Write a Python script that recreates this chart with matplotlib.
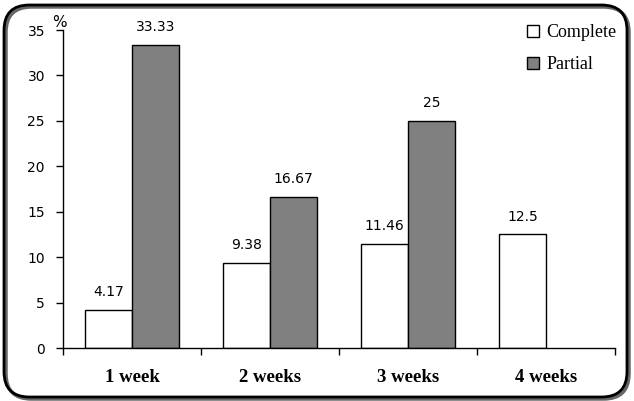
import matplotlib
matplotlib.use("Agg")
import matplotlib.pyplot as plt
from matplotlib.patches import FancyBboxPatch
import numpy as np

categories = ["1 week", "2 weeks", "3 weeks", "4 weeks"]
complete = [4.17, 9.38, 11.46, 12.5]
partial = [33.33, 16.67, 25, None]
complete_labels = ["4.17", "9.38", "11.46", "12.5"]
partial_labels = ["33.33", "16.67", "25", None]
yticks = [0, 5, 10, 15, 20, 25, 30, 35]

fig = plt.figure(figsize=(6.34, 4.01), dpi=100)
ax = fig.add_axes([63/634, 1-348/401, (615-63)/634, (348-30)/401])

# frame with shadow
shadow = FancyBboxPatch((6/634, 2/401), 623/634, 392/401, boxstyle="round,pad=0,rounding_size=0.04",
                        transform=fig.transFigure, facecolor="none", edgecolor="#666666", lw=2.5,
                        mutation_aspect=634/401, zorder=0)
fig.patches.append(shadow)
frame = FancyBboxPatch((4/634, 4/401), 623/634, 392/401, boxstyle="round,pad=0,rounding_size=0.04",
                       transform=fig.transFigure, facecolor="none", edgecolor="black", lw=2,
                       mutation_aspect=634/401, zorder=1)
fig.patches.append(frame)

x = np.arange(len(categories))
w = 0.34
sans = "DejaVu Sans"
for i in range(len(categories)):
    ax.bar(x[i] - w/2, complete[i], w, color="white", edgecolor="black", lw=1,
           label="Complete" if i == 0 else None)
    ax.text(x[i] - w/2, complete[i] + 1.2, complete_labels[i], ha="center", va="bottom",
            fontsize=10, family=sans)
    if partial[i] is not None:
        ax.bar(x[i] + w/2, partial[i], w, color="#808080", edgecolor="black", lw=1,
               label="Partial" if i == 0 else None)
        ax.text(x[i] + w/2, partial[i] + 1.2, partial_labels[i], ha="center", va="bottom",
                fontsize=10, family=sans)

ax.set_xlim(-0.5, len(categories) - 0.5)
ax.set_ylim(0, 35)
ax.set_yticks(yticks)
ax.set_yticklabels([str(t) for t in yticks], fontsize=10, family=sans)
ax.set_xticks(np.arange(-0.5, len(categories)), minor=False)
ax.set_xticklabels([])
ax.set_xticks(x, minor=True)
ax.set_xticklabels(categories, minor=True, fontsize=13.5, family="Liberation Serif", fontweight="bold")
ax.tick_params(axis="x", which="minor", length=0, pad=15)
ax.tick_params(axis="x", which="major", length=5, direction="out", width=1)
ax.tick_params(axis="y", length=5, direction="out", width=1, pad=8)
for s in ["top", "right"]:
    ax.spines[s].set_visible(False)
ax.spines["left"].set_linewidth(1)
ax.spines["bottom"].set_linewidth(1)

ax.text(-0.006, 1.0, "%", transform=ax.transAxes, fontsize=11, family=sans, ha="center", va="bottom")

leg = ax.legend(loc="upper right", bbox_to_anchor=(1.032, 1.07), frameon=False,
                prop={"family": "Liberation Serif", "size": 13}, handlelength=0.65, handleheight=0.65,
                handletextpad=0.4, labelspacing=0.85)

fig.savefig("out.png", dpi=100)
